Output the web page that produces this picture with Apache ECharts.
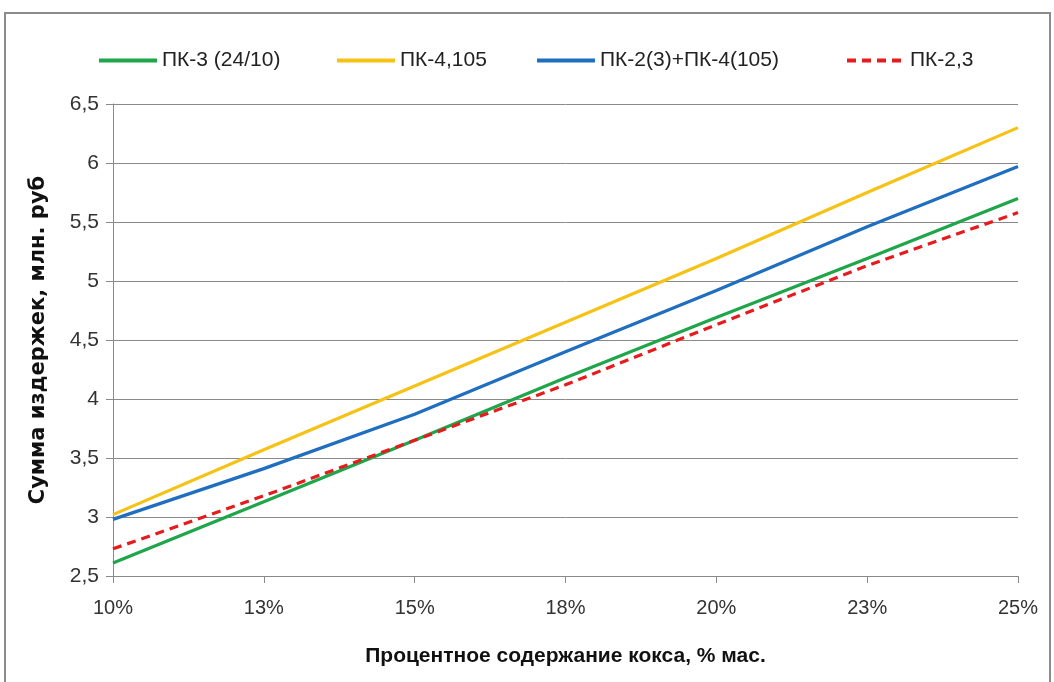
<!DOCTYPE html>
<html>
<head>
<meta charset="utf-8">
<script src="https://cdn.jsdelivr.net/npm/echarts@6/dist/echarts.min.js"></script>
<style>
  html, body { margin: 0; padding: 0; background: #fff; }
  #frame { position: absolute; left: 4px; top: 12px; width: 1047px; height: 680px; border: 2px solid #8c8c8c; box-sizing: border-box; }
  #chart { position: absolute; left: 0; top: 0; width: 1054px; height: 682px; }
</style>
</head>
<body>
<div id="frame"></div>
<div id="chart"></div>
<script>
// Coke content, % by mass (tick labels as printed)
const cokeLabels = ['10%', '13%', '15%', '18%', '20%', '23%', '25%'];

// Total costs, mln rub
const pk3 = [2.61, 3.13, 3.65, 4.18, 4.69, 5.19, 5.70];
const pk4 = [3.02, 3.57, 4.11, 4.65, 5.19, 5.75, 6.30];
const pk2pk4 = [2.98, 3.41, 3.87, 4.40, 4.92, 5.46, 5.97];
const pk23 = [2.73, 3.18, 3.65, 4.12, 4.63, 5.13, 5.58];

const seriesNames = ['ПК-3 (24/10)', 'ПК-4,105', 'ПК-2(3)+ПК-4(105)', 'ПК-2,3'];

const FONT = '"Liberation Sans Narrow", "Liberation Sans", sans-serif';

const chart = echarts.init(document.getElementById('chart'), null, { renderer: 'canvas' });

function lineSeries(name, data, color, type) {
  return {
    name: name,
    type: 'line',
    data: data,
    symbol: 'none',
    smooth: false,
    lineStyle: { color: color, width: 3.2, type: type || 'solid' },
    itemStyle: { color: color },
    emphasis: { disabled: true }
  };
}

// one legend entry per series, laid out left to right
const legendLefts = [97, 335, 535, 845];
const legends = seriesNames.map((name, i) => ({
  top: 50,
  left: legendLefts[i],
  padding: 0,
  itemWidth: 58,
  itemHeight: 14,
  itemGap: 0,
  itemStyle: { opacity: 0 },
  lineStyle: { width: 4 },
  textStyle: { fontFamily: FONT, fontSize: 21, color: '#222', padding: [0, 0, 0, 0] },
  data: [name]
}));

chart.setOption({
  animation: false,
  backgroundColor: 'transparent',
  legend: legends,
  grid: { left: 113, right: 36, top: 104, bottom: 106, containLabel: false },
  xAxis: {
    type: 'category',
    data: cokeLabels,
    boundaryGap: false,
    name: 'Процентное содержание кокса, % мас.',
    nameLocation: 'middle',
    nameGap: 70,
    nameTextStyle: { fontFamily: FONT, fontSize: 21, fontWeight: 'bold', color: '#111' },
    axisLine: { lineStyle: { color: '#8a8a8a', width: 1 } },
    axisTick: { show: true, length: 7, lineStyle: { color: '#8a8a8a' } },
    axisLabel: { fontFamily: FONT, fontSize: 20, color: '#333', margin: 22 },
    splitLine: { show: false }
  },
  yAxis: {
    type: 'value',
    min: 2.5,
    max: 6.5,
    interval: 0.5,
    name: 'Сумма издержек, млн. руб',
    nameLocation: 'middle',
    nameGap: 64,
    nameTextStyle: { fontFamily: 'DejaVu Sans, sans-serif', fontSize: 21, fontWeight: 'bold', color: '#111' },
    axisLine: { show: true, lineStyle: { color: '#8a8a8a', width: 1 } },
    axisTick: { show: true, length: 7, lineStyle: { color: '#8a8a8a' } },
    axisLabel: {
      fontFamily: FONT, fontSize: 21, color: '#333', margin: 14,
      formatter: v => String(v).replace('.', ',')
    },
    splitLine: { show: true, lineStyle: { color: '#8a8a8a', width: 1 } }
  },
  series: [
    lineSeries(seriesNames[0], pk3, '#1fa64a'),
    lineSeries(seriesNames[1], pk4, '#f5c215'),
    lineSeries(seriesNames[2], pk2pk4, '#1f6ebf'),
    lineSeries(seriesNames[3], pk23, '#e61b1e', [9, 6])
  ]
});
</script>
</body>
</html>
